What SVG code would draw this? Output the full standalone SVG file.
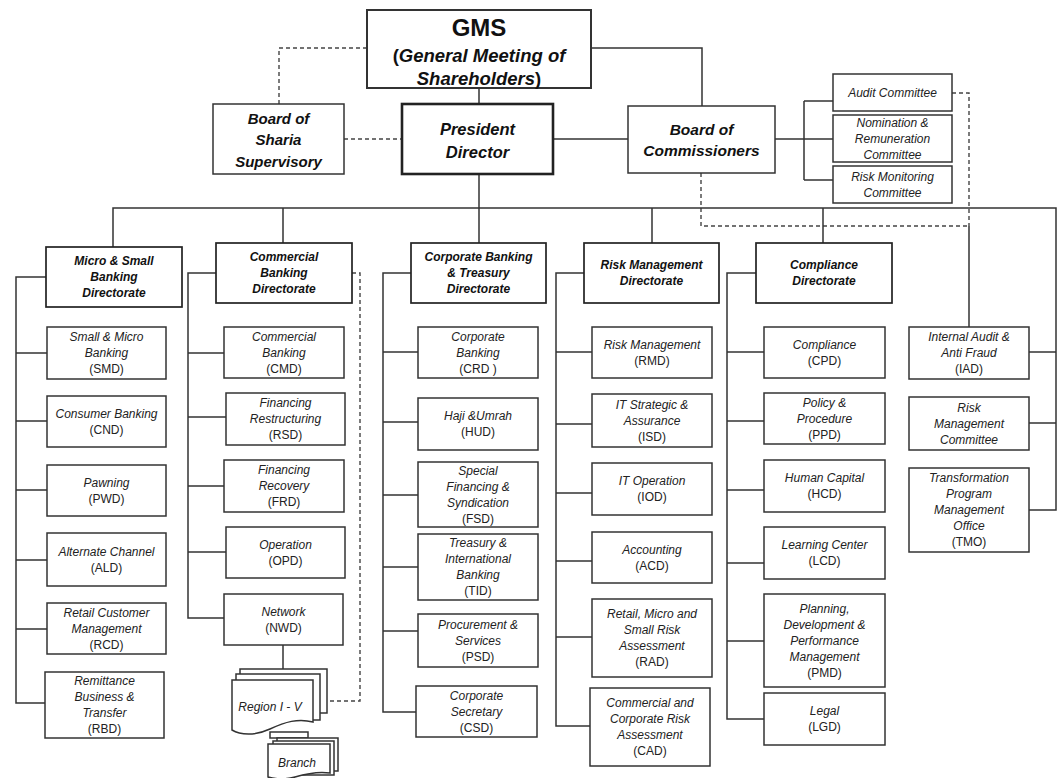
<svg xmlns="http://www.w3.org/2000/svg" width="1064" height="778" viewBox="0 0 1064 778">
<style>
.box{fill:#fff;stroke:#333;stroke-width:1.5}
.dir{fill:#fff;stroke:#222;stroke-width:1.7}
.pd{fill:#fff;stroke:#222;stroke-width:2.6}
.ln{stroke:#333;stroke-width:1.5;fill:none}
.dash{stroke:#444;stroke-width:1.4;stroke-dasharray:4 3;fill:none}
.t{font-family:'Liberation Sans',Arial,sans-serif;text-anchor:middle;fill:#111}
.h{font-family:'Liberation Sans',Arial,sans-serif;font-weight:bold;font-style:italic;font-size:12px;text-anchor:middle;fill:#111}
.u{font-family:'Liberation Sans',Arial,sans-serif;font-style:italic;font-size:12px;text-anchor:middle;fill:#222}
.c{font-style:normal}
.b{font-family:'Liberation Sans',Arial,sans-serif;font-weight:bold;font-style:italic;text-anchor:middle;fill:#111}
</style>
<rect width="1064" height="778" fill="#fff"/>
<g id="connectors">
<path class="dash" d="M367,48 H279 V104"/>
<path class="dash" d="M344,139 H402"/>
<path class="ln" d="M479,88 V104"/>
<path class="ln" d="M553,139 H628"/>
<path class="ln" d="M591,48 H702 V106"/>
<path class="ln" d="M775,139 H833 M804,101 V180 M804,101 H833 M804,180 H833"/>
<path class="dash" d="M952,93 H969 V226 M701,173 V226 H969"/>
<path class="ln" d="M969,226 V327"/>
<path class="ln" d="M479,174 V208"/>
<path class="ln" d="M113,247 V208 H1056 V510 H1029 M1056,352 H1029 M1056,423 H1029"/>
<path class="ln" d="M283,208 V243 M479,208 V243 M652,208 V243 M823,208 V243"/>
<path class="ln" d="M46,277 H16 V703 H45 M16,353 H47 M16,421 H47 M16,490 H47 M16,560 H47 M16,629 H47"/>
<path class="ln" d="M216,273 H188 V618 H224 M188,353 H224 M188,417 H226 M188,486 H224 M188,552 H226"/>
<path class="ln" d="M283,645 V669"/>
<path class="dash" d="M352,273 H360 V701 H327"/>
<path class="ln" d="M411,273 H383 V712 H416 M383,352 H418 M383,422 H418 M383,495 H418 M383,567 H418 M383,631 H418"/>
<path class="ln" d="M584,273 H556 V726 H590 M556,352 H592 M556,424 H592 M556,493 H592 M556,561 H592 M556,637 H592"/>
<path class="ln" d="M756,273 H727 V719 H764 M727,352 H764 M727,421 H764 M727,490 H764 M727,563 H764 M727,641 H764"/>
</g>
<g id="gms"><rect class="box" x="367" y="10" width="224" height="78" style="stroke-width:2"/>
<text class="t" x="479" y="36" font-size="24" font-weight="bold">GMS</text>
<text class="t" x="479" y="62" font-size="18.5" font-weight="bold">(<tspan font-style="italic">General Meeting of</tspan></text>
<text class="t" x="479" y="85" font-size="18.5" font-weight="bold"><tspan font-style="italic">Shareholders</tspan>)</text></g>
<g id="sharia"><rect class="box" x="213" y="104" width="131" height="70"/>
<text class="b" font-size="15"><tspan x="278.5" y="124">Board of</tspan><tspan x="278.5" y="145">Sharia</tspan><tspan x="278.5" y="167">Supervisory</tspan></text></g>
<g id="president"><rect class="pd" x="402" y="104" width="151" height="70"/>
<text class="b" font-size="16.5"><tspan x="477.5" y="135">President</tspan><tspan x="477.5" y="158">Director</tspan></text></g>
<g id="commissioners"><rect class="box" x="628" y="106" width="147" height="67"/>
<text class="b" font-size="15.5"><tspan x="701.5" y="135">Board of</tspan><tspan x="701.5" y="156">Commissioners</tspan></text></g>
<g id="audit-committee"><rect class="box" x="833" y="74" width="119" height="37"/>
<text class="u"><tspan x="892.5" y="97">Audit Committee</tspan></text></g>
<g id="nomination"><rect class="box" x="833" y="115" width="119" height="47"/>
<text class="u"><tspan x="892.5" y="127">Nomination &amp;</tspan><tspan x="892.5" y="143">Remuneration</tspan><tspan x="892.5" y="159">Committee</tspan></text></g>
<g id="risk-monitoring"><rect class="box" x="833" y="166" width="119" height="37"/>
<text class="u"><tspan x="892.5" y="181">Risk Monitoring</tspan><tspan x="892.5" y="197">Committee</tspan></text></g>

<g id="dir-micro"><rect class="dir" x="46" y="247" width="136" height="60"/>
<text class="h"><tspan x="114" y="265">Micro &amp; Small</tspan><tspan x="114" y="281">Banking</tspan><tspan x="114" y="297">Directorate</tspan></text></g>
<g id="dir-commercial"><rect class="dir" x="216" y="243" width="136" height="60"/>
<text class="h"><tspan x="284" y="261">Commercial</tspan><tspan x="284" y="277">Banking</tspan><tspan x="284" y="293">Directorate</tspan></text></g>
<g id="dir-corporate"><rect class="dir" x="411" y="243" width="135" height="60"/>
<text class="h"><tspan x="478.5" y="261">Corporate Banking</tspan><tspan x="478.5" y="277">&amp; Treasury</tspan><tspan x="478.5" y="293">Directorate</tspan></text></g>
<g id="dir-risk"><rect class="dir" x="584" y="243" width="135" height="60"/>
<text class="h"><tspan x="651.5" y="269">Risk Management</tspan><tspan x="651.5" y="285">Directorate</tspan></text></g>
<g id="dir-compliance"><rect class="dir" x="756" y="243" width="136" height="60"/>
<text class="h"><tspan x="824" y="269">Compliance</tspan><tspan x="824" y="285">Directorate</tspan></text></g>

<g id="smd"><rect class="box" x="47" y="327" width="119" height="52"/>
<text class="u"><tspan x="106.5" y="341">Small &amp; Micro</tspan><tspan x="106.5" y="357">Banking</tspan><tspan class="c" x="106.5" y="373">(SMD)</tspan></text></g>
<g id="cnd"><rect class="box" x="47" y="396" width="119" height="51"/>
<text class="u"><tspan x="106.5" y="418">Consumer Banking</tspan><tspan class="c" x="106.5" y="434">(CND)</tspan></text></g>
<g id="pwd"><rect class="box" x="47" y="465" width="119" height="51"/>
<text class="u"><tspan x="106.5" y="487">Pawning</tspan><tspan class="c" x="106.5" y="503">(PWD)</tspan></text></g>
<g id="ald"><rect class="box" x="47" y="533" width="119" height="53"/>
<text class="u"><tspan x="106.5" y="556">Alternate Channel</tspan><tspan class="c" x="106.5" y="572">(ALD)</tspan></text></g>
<g id="rcd"><rect class="box" x="47" y="603" width="119" height="51"/>
<text class="u"><tspan x="106.5" y="617">Retail Customer</tspan><tspan x="106.5" y="633">Management</tspan><tspan class="c" x="106.5" y="649">(RCD)</tspan></text></g>
<g id="rbd"><rect class="box" x="45" y="672" width="119" height="66"/>
<text class="u"><tspan x="104.5" y="685">Remittance</tspan><tspan x="104.5" y="701">Business &amp;</tspan><tspan x="104.5" y="717">Transfer</tspan><tspan class="c" x="104.5" y="733">(RBD)</tspan></text></g>

<g id="cmd"><rect class="box" x="224" y="327" width="120" height="51"/>
<text class="u"><tspan x="284" y="341">Commercial</tspan><tspan x="284" y="357">Banking</tspan><tspan class="c" x="284" y="373">(CMD)</tspan></text></g>
<g id="rsd"><rect class="box" x="226" y="393" width="119" height="52"/>
<text class="u"><tspan x="285.5" y="407">Financing</tspan><tspan x="285.5" y="423">Restructuring</tspan><tspan class="c" x="285.5" y="439">(RSD)</tspan></text></g>
<g id="frd"><rect class="box" x="224" y="460" width="120" height="52"/>
<text class="u"><tspan x="284" y="474">Financing</tspan><tspan x="284" y="490">Recovery</tspan><tspan class="c" x="284" y="506">(FRD)</tspan></text></g>
<g id="opd"><rect class="box" x="226" y="527" width="119" height="51"/>
<text class="u"><tspan x="285.5" y="549">Operation</tspan><tspan class="c" x="285.5" y="565">(OPD)</tspan></text></g>
<g id="nwd"><rect class="box" x="224" y="594" width="119" height="51"/>
<text class="u"><tspan x="283.5" y="616">Network</tspan><tspan class="c" x="283.5" y="632">(NWD)</tspan></text></g>
<g id="region">
<rect class="box" x="240" y="669" width="87" height="44"/>
<rect class="box" x="236" y="674" width="84" height="46"/>
<path class="box" d="M232,680 H313 V722 C298,718 285,722 270,729 C255,736 240,735 232,730 Z"/>
<text class="u"><tspan x="270" y="711">Region I - V</tspan></text></g>
<g id="branch">
<rect class="box" x="270" y="732" width="38" height="6"/>
<rect class="box" x="277" y="738" width="61" height="33"/>
<rect class="box" x="273" y="741" width="61" height="34"/>
<path class="box" d="M268,744 H330 V773 C318,771 305,774 295,777 C285,780 274,779 268,777 Z"/>
<text class="u"><tspan x="297" y="767">Branch</tspan></text></g>

<g id="crd"><rect class="box" x="418" y="327" width="120" height="51"/>
<text class="u"><tspan x="478" y="341">Corporate</tspan><tspan x="478" y="357">Banking</tspan><tspan class="c" x="478" y="373">(CRD )</tspan></text></g>
<g id="hud"><rect class="box" x="418" y="398" width="120" height="52"/>
<text class="u"><tspan x="478" y="420">Haji &amp;Umrah</tspan><tspan class="c" x="478" y="436">(HUD)</tspan></text></g>
<g id="fsd"><rect class="box" x="418" y="462" width="120" height="65"/>
<text class="u"><tspan x="478" y="475">Special</tspan><tspan x="478" y="491">Financing &amp;</tspan><tspan x="478" y="507">Syndication</tspan><tspan class="c" x="478" y="523">(FSD)</tspan></text></g>
<g id="tid"><rect class="box" x="418" y="534" width="120" height="66"/>
<text class="u"><tspan x="478" y="547">Treasury &amp;</tspan><tspan x="478" y="563">International</tspan><tspan x="478" y="579">Banking</tspan><tspan class="c" x="478" y="595">(TID)</tspan></text></g>
<g id="psd"><rect class="box" x="418" y="614" width="120" height="53"/>
<text class="u"><tspan x="478" y="629">Procurement &amp;</tspan><tspan x="478" y="645">Services</tspan><tspan class="c" x="478" y="661">(PSD)</tspan></text></g>
<g id="csd"><rect class="box" x="416" y="686" width="121" height="51"/>
<text class="u"><tspan x="476.5" y="700">Corporate</tspan><tspan x="476.5" y="716">Secretary</tspan><tspan class="c" x="476.5" y="732">(CSD)</tspan></text></g>

<g id="rmd"><rect class="box" x="592" y="327" width="120" height="51"/>
<text class="u"><tspan x="652" y="349">Risk Management</tspan><tspan class="c" x="652" y="365">(RMD)</tspan></text></g>
<g id="isd"><rect class="box" x="592" y="394" width="120" height="53"/>
<text class="u"><tspan x="652" y="409">IT Strategic &amp;</tspan><tspan x="652" y="425">Assurance</tspan><tspan class="c" x="652" y="441">(ISD)</tspan></text></g>
<g id="iod"><rect class="box" x="592" y="463" width="120" height="52"/>
<text class="u"><tspan x="652" y="485">IT Operation</tspan><tspan class="c" x="652" y="501">(IOD)</tspan></text></g>
<g id="acd"><rect class="box" x="592" y="532" width="120" height="51"/>
<text class="u"><tspan x="652" y="554">Accounting</tspan><tspan class="c" x="652" y="570">(ACD)</tspan></text></g>
<g id="rad"><rect class="box" x="592" y="599" width="120" height="78"/>
<text class="u"><tspan x="652" y="618">Retail, Micro and</tspan><tspan x="652" y="634">Small Risk</tspan><tspan x="652" y="650">Assessment</tspan><tspan class="c" x="652" y="666">(RAD)</tspan></text></g>
<g id="cad"><rect class="box" x="590" y="688" width="120" height="78"/>
<text class="u"><tspan x="650" y="707">Commercial and</tspan><tspan x="650" y="723">Corporate Risk</tspan><tspan x="650" y="739">Assessment</tspan><tspan class="c" x="650" y="755">(CAD)</tspan></text></g>

<g id="cpd"><rect class="box" x="764" y="327" width="121" height="51"/>
<text class="u"><tspan x="824.5" y="349">Compliance</tspan><tspan class="c" x="824.5" y="365">(CPD)</tspan></text></g>
<g id="ppd"><rect class="box" x="764" y="393" width="121" height="51"/>
<text class="u"><tspan x="824.5" y="407">Policy &amp;</tspan><tspan x="824.5" y="423">Procedure</tspan><tspan class="c" x="824.5" y="439">(PPD)</tspan></text></g>
<g id="hcd"><rect class="box" x="764" y="460" width="121" height="52"/>
<text class="u"><tspan x="824.5" y="482">Human Capital</tspan><tspan class="c" x="824.5" y="498">(HCD)</tspan></text></g>
<g id="lcd"><rect class="box" x="764" y="527" width="121" height="52"/>
<text class="u"><tspan x="824.5" y="549">Learning Center</tspan><tspan class="c" x="824.5" y="565">(LCD)</tspan></text></g>
<g id="pmd"><rect class="box" x="764" y="594" width="121" height="93"/>
<text class="u"><tspan x="824.5" y="613">Planning,</tspan><tspan x="824.5" y="629">Development &amp;</tspan><tspan x="824.5" y="645">Performance</tspan><tspan x="824.5" y="661">Management</tspan><tspan class="c" x="824.5" y="677">(PMD)</tspan></text></g>
<g id="lgd"><rect class="box" x="764" y="693" width="121" height="52"/>
<text class="u"><tspan x="824.5" y="715">Legal</tspan><tspan class="c" x="824.5" y="731">(LGD)</tspan></text></g>

<g id="iad"><rect class="box" x="909" y="327" width="120" height="52"/>
<text class="u"><tspan x="969" y="341">Internal Audit &amp;</tspan><tspan x="969" y="357">Anti Fraud</tspan><tspan class="c" x="969" y="373">(IAD)</tspan></text></g>
<g id="rmc"><rect class="box" x="909" y="397" width="120" height="53"/>
<text class="u"><tspan x="969" y="412">Risk</tspan><tspan x="969" y="428">Management</tspan><tspan x="969" y="444">Committee</tspan></text></g>
<g id="tmo"><rect class="box" x="909" y="468" width="120" height="84"/>
<text class="u"><tspan x="969" y="482">Transformation</tspan><tspan x="969" y="498">Program</tspan><tspan x="969" y="514">Management</tspan><tspan x="969" y="530">Office</tspan><tspan class="c" x="969" y="546">(TMO)</tspan></text></g>
</svg>
